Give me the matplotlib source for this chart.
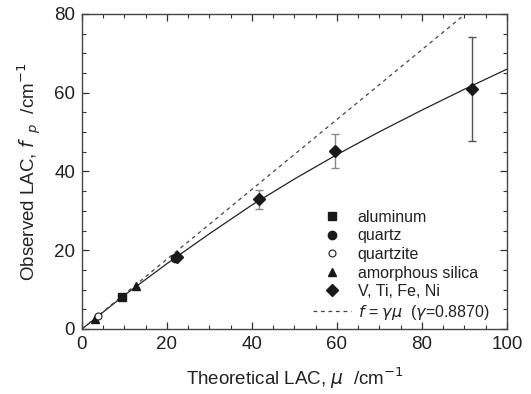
import numpy as np
import matplotlib
matplotlib.use("Agg")
import matplotlib.pyplot as plt
from matplotlib.ticker import MultipleLocator

plt.rcParams['font.family'] = ['Liberation Sans', 'DejaVu Sans']
plt.rcParams['mathtext.fontset'] = 'dejavusans'

# data
al_x = [9.3]
al_y = [8.2]
quartz_x = [21.9]
quartz_y = [18.0]
quartzite_x = [3.8]
quartzite_y = [3.4]
silica_x = [3.1, 12.7]
silica_y = [2.5, 11.0]
metal_x = [22.4, 41.6, 59.6, 91.8]
metal_y = [18.4, 32.9, 45.2, 60.9]
metal_lo = [0.0, 2.3, 4.4, 13.1]
metal_hi = [0.0, 2.4, 4.3, 13.2]

# fitted curve (solid) read at regular mu
fit_x = [0, 10, 20, 30, 40, 50, 60, 70, 80, 90, 100]
fit_y = [0, 8.6, 16.6, 24.2, 31.5, 38.1, 44.3, 50.1, 55.6, 60.9, 66.0]

gamma = 0.8870
line_x = [0, 100]

fig = plt.figure(figsize=(5.31, 3.94), dpi=100)
ax = fig.add_axes([0.1544, 0.165, 0.8004, 0.7995])

ax.plot(fit_x, fit_y, color='#222222', lw=0.9, zorder=2)
ax.plot(line_x, [gamma * v for v in line_x], color='#444444', lw=0.9,
        ls=(0, (3, 3)), zorder=2, label=r'$f$ = $\gamma\mu$  ($\gamma$=0.8870)')

# error bars
ecol = ['#888888', '#888888', '#888888', '#555555']
for i in range(1, 4):
    ax.errorbar(metal_x[i], metal_y[i], yerr=[[metal_lo[i]], [metal_hi[i]]],
                fmt='none', ecolor=ecol[i], elinewidth=1.0, capsize=3, capthick=1.0, zorder=3)

ax.plot(al_x, al_y, 's', color='#1a1a1a', ms=6, ls='none', label='aluminum', zorder=4)
ax.plot(quartz_x, quartz_y, 'o', color='#1a1a1a', ms=6, ls='none', label='quartz', zorder=4)
ax.plot(quartzite_x, quartzite_y, 'o', mfc='white', mec='#1a1a1a', mew=0.8, ms=5,
        ls='none', label='quartzite', zorder=5)
ax.plot(silica_x, silica_y, '^', color='#1a1a1a', ms=6, ls='none', label='amorphous silica', zorder=4)
ax.plot(metal_x, metal_y, 'D', color='#1a1a1a', ms=6.5, ls='none', label='V, Ti, Fe, Ni', zorder=4)

ax.set_xlim(0, 100)
ax.set_ylim(0, 80)
ax.xaxis.set_major_locator(MultipleLocator(20))
ax.xaxis.set_minor_locator(MultipleLocator(5))
ax.yaxis.set_major_locator(MultipleLocator(20))
ax.yaxis.set_minor_locator(MultipleLocator(5))
ax.tick_params(which='both', direction='in', top=True, right=True, colors='#333333',
               labelcolor='#222222', labelsize=13.5)
ax.tick_params(which='major', length=5, width=0.9, pad=5)
ax.tick_params(which='minor', length=3, width=0.8)
for s in ax.spines.values():
    s.set_color('#444444')
    s.set_linewidth(1.0)

ax.set_xlabel(r'Theoretical LAC, $\mu$  /cm$^{-1}$', fontsize=13.5, color='#222222', labelpad=9)
ax.set_ylabel(r'Observed LAC, $f_{\ \ p}$  /cm$^{-1}$', fontsize=13.5, color='#222222', labelpad=7)

handles, labels = ax.get_legend_handles_labels()
order = [1, 2, 3, 4, 5, 0]
leg = ax.legend([handles[i] for i in order], [labels[i] for i in order],
                loc='lower left', bbox_to_anchor=(0.51, -0.022), frameon=False,
                fontsize=11.5, handlelength=2.4, labelspacing=0.22, handletextpad=0.4)
for t in leg.get_texts():
    t.set_color('#222222')

fig.savefig('out.png', dpi=100)
